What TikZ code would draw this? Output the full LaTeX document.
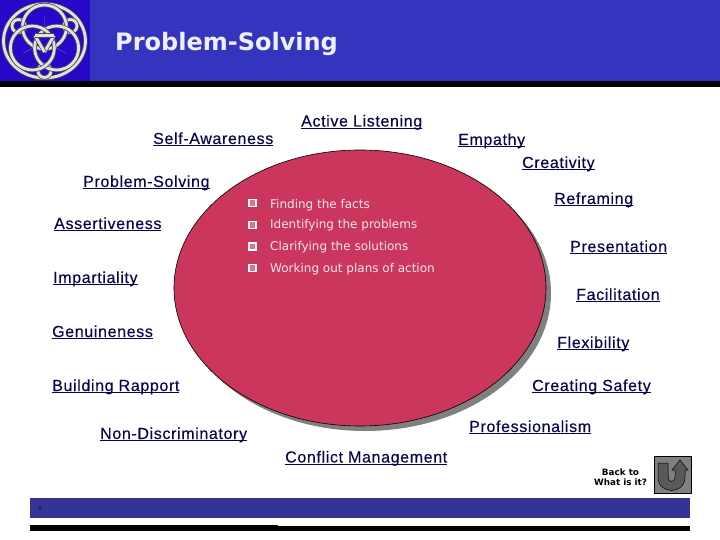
\documentclass[tikz,border=0pt]{standalone}
\usepackage{fontspec}
\setmainfont{Liberation Sans}
\newfontfamily\titlefont{DejaVu Sans}
\usetikzlibrary{shapes.geometric, positioning, calc}
\definecolor{hdrblue}{RGB}{52,52,190}
\definecolor{logoblue}{RGB}{40,8,200}
\definecolor{footblue}{RGB}{52,52,150}
\definecolor{myred}{RGB}{203,54,92}
\definecolor{mydark}{RGB}{6,6,80}
\definecolor{myshadow}{RGB}{128,128,128}
\definecolor{knotgrey}{RGB}{225,225,225}
\newcommand{\ulabel}[1]{\setbox0\hbox{#1}\rlap{\rule[-2.4pt]{\wd0}{1.2pt}}\box0}
\tikzset{
  skill/.style={anchor=base west, inner sep=0pt, text=mydark,
    font=\fontsize{16}{18}\selectfont\addfontfeatures{LetterSpace=4,FakeBold=0.25}},
  item/.style={anchor=base west, inner sep=0pt, text=white!88!myred,
    font=\titlefont\fontsize{12}{14}\selectfont},
  tick/.style={rectangle, draw=white, fill=myred!70!white, minimum size=7pt,
    inner sep=0pt, line width=1.3pt},
  knotdark/.style={line width=4.4pt, color=black!70},
  knotlight/.style={line width=2.8pt, color=knotgrey}
}
\begin{document}
\begin{tikzpicture}[x=1pt, y=-1pt]
  \useasboundingbox (0, 0) rectangle (720, 540);

  % Header
  \fill[hdrblue] (0, 0) rectangle (720, 81);
  \fill[logoblue] (0, 0) rectangle (90, 81);
  \fill[black] (0, 81) rectangle (720, 87);
  \node[anchor=base west, inner sep=0pt, text=white!92!hdrblue, font=\titlefont\bfseries\fontsize{24}{28}\selectfont] (title) at (115, 51) {Problem-Solving};

  % Logo
  \begin{scope}[shift={(44.5, 41)}]
    \draw[knotdark] (0, 0) ellipse (41 and 37);
    \draw[knotlight] (0, 0) ellipse (41 and 37);
    \foreach \ang in {330, 90, 210} {
      \draw[knotdark] (\ang:30) circle (6.5);
      \draw[knotlight] (\ang:30) circle (6.5);
    }
    \foreach \ang in {270, 30, 150} {
      \draw[knotdark] (\ang:14) circle (22);
      \draw[knotlight] (\ang:14) circle (22);
    }
    \foreach \ang in {270, 30, 150} {
      \fill[white] (\ang:25) -- (\ang:13) ++(\ang+90:8) -- ++(\ang-90:16) -- cycle;
      \draw[knotdark] (\ang+60:11) -- (\ang+180:11);
      \draw[knotlight] (\ang+60:11) -- (\ang+180:11);
    }
  \end{scope}

  % Shadow and circle
  \fill[myshadow] (365, 293) ellipse (186 and 138);
  \draw[black, fill=myred, line width=0.6pt] (360, 288) ellipse (186 and 138);

  % Bullets
  \node[tick] (tick1) at (252.5, 203) {};
  \node[tick] (tick2) at (252.5, 225) {};
  \node[tick] (tick3) at (252.5, 246.5) {};
  \node[tick] (tick4) at (252.5, 268) {};
  \node[item] (facts) at (270, 208) {Finding the facts};
  \node[item] (problems) at (270, 229) {Identifying the problems};
  \node[item] (solutions) at (270, 251) {Clarifying the solutions};
  \node[item] (plans) at (270, 272) {Working out plans of action};

  % Skills
  \node[skill] (listening) at (301, 126.5) {\ulabel{Active Listening}};
  \node[skill] (awareness) at (153, 144) {\ulabel{Self-Awareness}};
  \node[skill] (empathy) at (458, 145) {\ulabel{Empathy}};
  \node[skill] (creativity) at (522, 168) {\ulabel{Creativity}};
  \node[skill] (solving) at (83, 187) {\ulabel{Problem-Solving}};
  \node[skill] (reframing) at (554, 204) {\ulabel{Reframing}};
  \node[skill] (assertive) at (54, 229) {\ulabel{Assertiveness}};
  \node[skill] (presentation) at (570, 252) {\ulabel{Presentation}};
  \node[skill] (impartial) at (53, 283) {\ulabel{Impartiality}};
  \node[skill] (facilitation) at (576, 300) {\ulabel{Facilitation}};
  \node[skill] (genuine) at (52, 337) {\ulabel{Genuineness}};
  \node[skill] (flexible) at (557, 348) {\ulabel{Flexibility}};
  \node[skill] (rapport) at (52, 391) {\ulabel{Building Rapport}};
  \node[skill] (safety) at (532, 391) {\ulabel{Creating Safety}};
  \node[skill] (professional) at (469, 432) {\ulabel{Professionalism}};
  \node[skill] (nondiscrim) at (100, 439) {\ulabel{Non-Discriminatory}};
  \node[skill] (conflict) at (285, 462.5) {\ulabel{Conflict Management}};

  % Back button
  \node[rectangle, draw=black, fill=myshadow, minimum size=37pt, inner sep=0pt, line width=0.6pt] (backbtn) at (672.5, 474.5) {};
  \draw[black, fill=black!65, line width=0.5pt] (658, 463) -- (658, 477) .. controls (658, 495) and (685, 495) .. (685, 477) -- (685, 470) -- (688, 470) -- (680, 460) -- (672, 470) -- (675, 470) -- (675, 477) .. controls (675, 483) and (668, 483) .. (668, 477) -- (668, 463) -- cycle;
  \node[align=center, inner sep=0pt, font=\titlefont\bfseries\fontsize{8.8}{10}\selectfont] (backtxt) at (620.5, 477) {Back to\\What is it?};

  % Footer
  \fill[footblue] (30, 498) rectangle (690, 518);
  \node[inner sep=0pt, text=mydark, font=\fontsize{7}{8}\selectfont] (mark) at (40, 509) {x};
  \fill[black] (30, 526) rectangle (690, 531);
  \fill[black] (30, 525) rectangle (278, 526);
\end{tikzpicture}
\end{document}
